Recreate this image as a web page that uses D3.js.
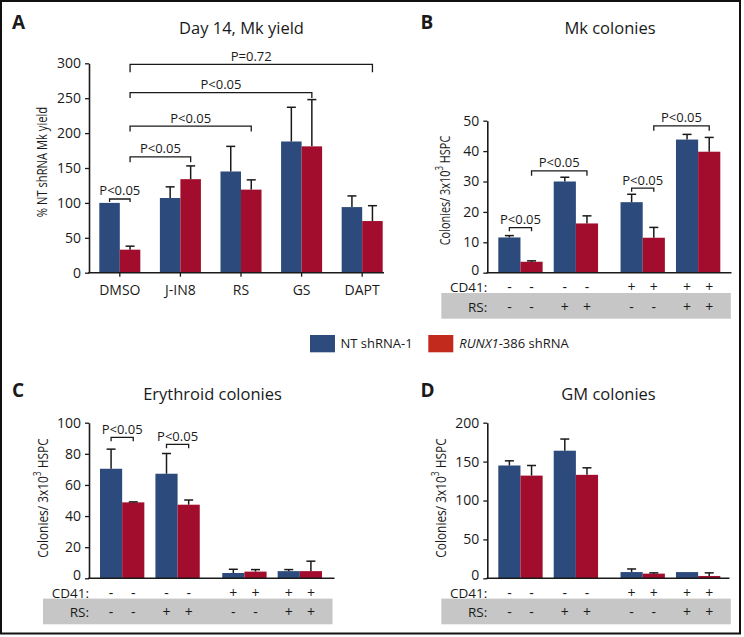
<!DOCTYPE html>
<html><head><meta charset="utf-8">
<script src="https://cdn.jsdelivr.net/npm/d3@7"></script>
<style>
html,body{margin:0;padding:0;background:#fff;}
text{font-family:"Open Sans",sans-serif;fill:#1a1a1a;}
</style></head>
<body>
<svg id="chart" width="744" height="637"></svg>
<script>
// ---------- DATA ----------
const series = ["nt", "rx"];
const seriesNames = ["NT shRNA-1", "RUNX1-386 shRNA"];

// Panel A
const catsA = ["DMSO", "J-IN8", "RS", "GS", "DAPT"];
const ntA = [100, 107, 145, 188, 94];
const ntErrA = [0, 16, 36, 49, 16];
const rxA = [33, 134, 119, 181, 74];
const rxErrA = [5, 19, 14, 67, 22];
const ticksA = [0, 50, 100, 150, 200, 250, 300];
// brackets: [fromGroup, fromSeries, toGroup, toSeries, yValue, label]
const bracketsA = [
  [0, 0, 0, 1, 105.6, "P<0.05"],
  [0, 1, 1, 1, 166, "P<0.05"],
  [0, 1, 2, 1, 210, "P<0.05"],
  [0, 1, 3, 1, 258, "P<0.05"],
  [0, 1, 4, 1, 298.6, "P=0.72"]
];

// Conditions for B, C, D
const cd41 = ["-", "-", "+", "+"];
const rs = ["-", "+", "-", "+"];

// Panel B: Mk colonies
const ntB = [11.6, 30.0, 23.2, 43.8];
const ntErrB = [0.6, 1.4, 2.6, 1.7];
const rxB = [3.6, 16.2, 11.5, 39.8];
const rxErrB = [0.3, 2.5, 3.4, 4.7];
const ticksB = [0, 10, 20, 30, 40, 50];
const bracketsB = [
  [0, 0, 0, 1, 14.8, "P<0.05"],
  [0, 1, 1, 1, 33.5, "P<0.05"],
  [2, 0, 2, 1, 27.8, "P<0.05"],
  [2, 1, 3, 1, 48.3, "P<0.05"]
];

// Panel C: Erythroid colonies
const ntC = [70.4, 67.2, 3.4, 4.6];
const ntErrC = [12.6, 13.0, 2.4, 1.0];
const rxC = [48.8, 47.3, 4.3, 4.6];
const rxErrC = [0.3, 3.0, 1.3, 6.4];
const ticksC = [0, 20, 40, 60, 80, 100];
const bracketsC = [
  [0, 0, 0, 1, 90.6, "P<0.05"],
  [1, 0, 1, 1, 86.1, "P<0.05"]
];

// Panel D: GM colonies
const ntD = [145, 164, 8, 8];
const ntErrD = [6, 15, 4, 0];
const rxD = [132, 133, 6, 3];
const rxErrD = [13, 9, 1, 4];
const ticksD = [0, 50, 100, 150, 200];
const bracketsD = [];

// ---------- STYLE ----------
const BLUE = "#2d4a7c";
const RED = "#a20d2d";
const LEG_BLUE = "#2e4b7e";
const LEG_RED = "#c22a1e";
const INK = "#1a1a1a";

const svg = d3.select("#chart");

// outer frame
svg.append("rect").attr("x", 1).attr("y", 1).attr("width", 739).attr("height", 632.5)
  .attr("fill", "none").attr("stroke", "#111").attr("stroke-width", 2);

function drawPanel(cfg) {
  const g = svg.append("g");
  const y = d3.scaleLinear().domain([0, cfg.max]).range([cfg.yBase, cfg.yTop]);
  const nt = cfg.nt, rx = cfg.rx, ntE = cfg.ntErr, rxE = cfg.rxErr;
  const vals = [nt, rx], errs = [ntE, rxE];
  const n = nt.length;

  let groupX, groupW;
  if (cfg.cats) {
    const xb = d3.scaleBand().domain(cfg.cats).range([cfg.xAxis, cfg.xAxis + 304])
      .paddingInner(0.323).paddingOuter(0.17);
    groupX = i => xb(cfg.cats[i]);
    groupW = xb.bandwidth();
    cfg.xScale = xb;
  } else {
    const outer = d3.scaleBand().domain(["-", "+"]).range([cfg.xAxis, cfg.xAxis + 244])
      .paddingInner(0.184).paddingOuter(0.09);
    const inner = d3.scaleBand().domain(["-", "+"]).range([0, outer.bandwidth()])
      .paddingInner(0.2).paddingOuter(0);
    groupX = i => outer(cd41[i]) + inner(rs[i]);
    groupW = inner.bandwidth();
  }
  const sb = d3.scaleBand().domain(series).range([0, groupW]);
  const barX = (i, s) => groupX(i) + sb(series[s]);
  const barC = (i, s) => barX(i, s) + sb.bandwidth() / 2;

  // bars
  for (let s = 0; s < 2; s++) {
    g.selectAll(null).data(d3.range(n)).join("rect")
      .attr("x", i => barX(i, s))
      .attr("y", i => y(vals[s][i]))
      .attr("width", sb.bandwidth())
      .attr("height", i => y(0) - y(vals[s][i]))
      .attr("fill", s === 0 ? BLUE : RED);
  }
  // error bars (upper only)
  for (let s = 0; s < 2; s++) {
    const eg = g.selectAll(null).data(d3.range(n).filter(i => errs[s][i] > 0)).join("g");
    eg.append("line")
      .attr("x1", i => barC(i, s)).attr("x2", i => barC(i, s))
      .attr("y1", i => y(vals[s][i])).attr("y2", i => y(vals[s][i] + errs[s][i]))
      .attr("stroke", INK).attr("stroke-width", 1.5);
    eg.append("line")
      .attr("x1", i => barC(i, s) - 4.5).attr("x2", i => barC(i, s) + 4.5)
      .attr("y1", i => y(vals[s][i] + errs[s][i])).attr("y2", i => y(vals[s][i] + errs[s][i]))
      .attr("stroke", INK).attr("stroke-width", 1.5);
  }

  // y axis
  const ya = d3.axisLeft(y).tickValues(cfg.ticks).tickSize(4).tickPadding(4).tickSizeOuter(0);
  const yg = g.append("g").attr("transform", `translate(${cfg.xAxis},0)`).call(ya);
  yg.select(".domain").attr("stroke", INK).attr("stroke-width", 1.6);
  yg.selectAll(".tick line").attr("stroke", INK).attr("stroke-width", 1.3);
  yg.selectAll(".tick text").attr("font-size", 14).attr("font-family", "Open Sans").attr("fill", INK);
  // keep "0" label clear of the table row below
  if (!cfg.cats) yg.selectAll(".tick text").filter(d => d === 0).attr("dy", "0.12em");

  // x axis line
  g.append("line").attr("x1", cfg.xAxis - 0.8).attr("x2", cfg.xEnd)
    .attr("y1", y(0)).attr("y2", y(0)).attr("stroke", INK).attr("stroke-width", 1.6);

  if (cfg.cats) {
    const xb = cfg.xScale;
    const ticks = g.selectAll(null).data(cfg.cats).join("g")
      .attr("transform", d => `translate(${xb(d) + xb.bandwidth() / 2},${y(0)})`);
    ticks.append("line").attr("y1", 0).attr("y2", 4).attr("stroke", INK).attr("stroke-width", 1.3);
    ticks.append("text").attr("y", 22.5).attr("text-anchor", "middle")
      .attr("font-size", 14).text(d => d);
  } else {
    const base = y(0);
    g.append("rect").attr("x", cfg.xAxis - 46).attr("y", base + 20.3)
      .attr("width", 289.5).attr("height", 25.7).attr("fill", "#c6c6c6");
    g.append("text").attr("x", cfg.xAxis).attr("y", base + 19.5).attr("text-anchor", "end")
      .attr("font-size", 13.5).text("CD41:");
    g.append("text").attr("x", cfg.xAxis).attr("y", base + 39).attr("text-anchor", "end")
      .attr("font-size", 13.5).text("RS:");
    for (let s = 0; s < 2; s++) {
      g.selectAll(null).data(d3.range(n)).join("text")
        .attr("x", i => barC(i, s)).attr("y", base + 19.5).attr("text-anchor", "middle")
        .attr("font-size", 14).text(i => cd41[i]);
      g.selectAll(null).data(d3.range(n)).join("text")
        .attr("x", i => barC(i, s)).attr("y", base + 39).attr("text-anchor", "middle")
        .attr("font-size", 14).text(i => rs[i]);
    }
  }

  // brackets
  cfg.brackets.forEach(b => {
    const xa = barC(b[0], b[1]), xz = barC(b[2], b[3]);
    const yt = y(b[4]);
    const leg = b.length > 6 ? b[6] : 5;
    g.append("path")
      .attr("d", `M${xa},${yt + leg}V${yt}H${xz}V${yt + leg}`)
      .attr("fill", "none").attr("stroke", INK).attr("stroke-width", 1.3);
    g.append("text").attr("x", (xa + xz) / 2).attr("y", yt - 3.5)
      .attr("text-anchor", "middle").attr("font-size", 13).text(b[5]);
  });

  // title
  g.append("text").attr("x", cfg.titleX).attr("y", cfg.titleY).attr("text-anchor", "middle")
    .attr("font-size", 16.5).text(cfg.title);
  // panel letter
  g.append("text").attr("x", cfg.letterX).attr("y", cfg.letterY)
    .attr("font-family", "Liberation Sans, Arial, sans-serif").attr("font-weight", "bold")
    .attr("font-size", 19).attr("fill", "#000").text(cfg.letter);

  // y label (glyphs condensed along the text, as in the reference)
  const yl = g.append("text").attr("text-anchor", "middle")
    .attr("transform", `translate(${cfg.ylabX},${cfg.ylabY}) rotate(-90) scale(${cfg.ylabSx},1)`)
    .attr("font-size", 14);
  if (cfg.sup) {
    yl.append("tspan").text("Colonies/ 3x10");
    yl.append("tspan").attr("baseline-shift", "super").attr("font-size", 10).text("3");
    yl.append("tspan").text(" HSPC");
  } else {
    yl.text(cfg.ylab);
  }
}

drawPanel({
  letter: "A", letterX: 12, letterY: 28.5,
  title: "Day 14, Mk yield", titleX: 241.5, titleY: 34,
  cats: catsA, nt: ntA, ntErr: ntErrA, rx: rxA, rxErr: rxErrA,
  max: 300, ticks: ticksA, yBase: 272.7, yTop: 63.3, xAxis: 89, xEnd: 384,
  brackets: bracketsA.map((b, k) => k === 0 ? b.concat([3]) : b.concat([k === 4 ? 8 : 5.5])),
  ylab: "% NT shRNA Mk yield", ylabX: 47, ylabY: 162, ylabSx: 0.8
});
drawPanel({
  letter: "B", letterX: 420.5, letterY: 28.5,
  title: "Mk colonies", titleX: 610, titleY: 34,
  nt: ntB, ntErr: ntErrB, rx: rxB, rxErr: rxErrB,
  max: 50, ticks: ticksB, yBase: 272.7, yTop: 120.7, xAxis: 487.3, xEnd: 731.5,
  brackets: bracketsB.map(b => b.concat([b[0] === b[2] ? 3.5 : 5])),
  sup: true, ylabX: 450, ylabY: 190.5, ylabSx: 0.78
});
drawPanel({
  letter: "C", letterX: 12, letterY: 397,
  title: "Erythroid colonies", titleX: 212.5, titleY: 400,
  nt: ntC, ntErr: ntErrC, rx: rxC, rxErr: rxErrC,
  max: 100, ticks: ticksC, yBase: 578.3, yTop: 422.7, xAxis: 89, xEnd: 334.5,
  brackets: bracketsC.map(b => b.concat([4])),
  sup: true, ylabX: 47.5, ylabY: 498, ylabSx: 0.85
});
drawPanel({
  letter: "D", letterX: 420.5, letterY: 397,
  title: "GM colonies", titleX: 608.5, titleY: 400,
  nt: ntD, ntErr: ntErrD, rx: rxD, rxErr: rxErrD,
  max: 200, ticks: ticksD, yBase: 578.3, yTop: 422.7, xAxis: 487.3, xEnd: 729.5,
  brackets: bracketsD,
  sup: true, ylabX: 445.5, ylabY: 498, ylabSx: 0.85
});

// legend
const leg = svg.append("g");
const legX = [310, 428.3];
const legColors = [LEG_BLUE, LEG_RED];
legX.forEach((lx, k) => {
  leg.append("rect").attr("x", lx).attr("y", 335).attr("width", 25).attr("height", 17.3)
    .attr("fill", legColors[k]);
});
leg.append("text").attr("x", 340.5).attr("y", 348.3).attr("font-size", 13).text(seriesNames[0]);
const t2 = leg.append("text").attr("x", 459.3).attr("y", 348.3).attr("font-size", 13);
t2.append("tspan").attr("font-style", "italic").text("RUNX1");
t2.append("tspan").text("-386 shRNA");
</script>
</body></html>
